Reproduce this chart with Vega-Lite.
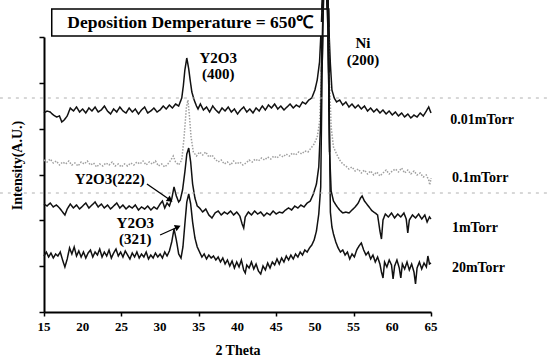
{
  "$schema": "https://vega.github.io/schema/vega-lite/v6.json",
  "width": 387,
  "height": 275,
  "autosize": {"type": "none"},
  "padding": {"left": 44, "top": 37, "right": 117, "bottom": 50},
  "background": "white",
  "config": {"view": {"stroke": null}, "font": "Liberation Serif"},
  "datasets": {
    "traces": [
      {"s":"0.01mTorr","x":15,"y":199},{"s":"0.01mTorr","x":15.4,"y":201},{"s":"0.01mTorr","x":15.8,"y":200},{"s":"0.01mTorr","x":16.2,"y":197},{"s":"0.01mTorr","x":16.6,"y":195},{"s":"0.01mTorr","x":17,"y":196},{"s":"0.01mTorr","x":17.3,"y":190},{"s":"0.01mTorr","x":17.6,"y":192},{"s":"0.01mTorr","x":18,"y":196},{"s":"0.01mTorr","x":18.4,"y":204},{"s":"0.01mTorr","x":18.8,"y":201},{"s":"0.01mTorr","x":19.2,"y":205},{"s":"0.01mTorr","x":19.6,"y":200},{"s":"0.01mTorr","x":20,"y":203},{"s":"0.01mTorr","x":20.4,"y":199},{"s":"0.01mTorr","x":20.8,"y":204},{"s":"0.01mTorr","x":21.2,"y":201},{"s":"0.01mTorr","x":21.6,"y":205},{"s":"0.01mTorr","x":22,"y":200},{"s":"0.01mTorr","x":22.4,"y":202},{"s":"0.01mTorr","x":22.8,"y":206},{"s":"0.01mTorr","x":23.2,"y":201},{"s":"0.01mTorr","x":23.6,"y":198},{"s":"0.01mTorr","x":24,"y":203},{"s":"0.01mTorr","x":24.4,"y":200},{"s":"0.01mTorr","x":24.8,"y":205},{"s":"0.01mTorr","x":25.2,"y":201},{"s":"0.01mTorr","x":25.6,"y":199},{"s":"0.01mTorr","x":26,"y":204},{"s":"0.01mTorr","x":26.4,"y":200},{"s":"0.01mTorr","x":26.8,"y":203},{"s":"0.01mTorr","x":27.2,"y":198},{"s":"0.01mTorr","x":27.6,"y":202},{"s":"0.01mTorr","x":28,"y":205},{"s":"0.01mTorr","x":28.4,"y":199},{"s":"0.01mTorr","x":28.8,"y":201},{"s":"0.01mTorr","x":29.2,"y":204},{"s":"0.01mTorr","x":29.6,"y":200},{"s":"0.01mTorr","x":30,"y":202},{"s":"0.01mTorr","x":30.4,"y":206},{"s":"0.01mTorr","x":30.8,"y":203},{"s":"0.01mTorr","x":31.2,"y":207},{"s":"0.01mTorr","x":31.6,"y":204},{"s":"0.01mTorr","x":32,"y":208},{"s":"0.01mTorr","x":32.4,"y":206},{"s":"0.01mTorr","x":32.8,"y":214},{"s":"0.01mTorr","x":33,"y":226},{"s":"0.01mTorr","x":33.2,"y":242},{"s":"0.01mTorr","x":33.45,"y":254},{"s":"0.01mTorr","x":33.7,"y":243},{"s":"0.01mTorr","x":33.9,"y":231},{"s":"0.01mTorr","x":34.1,"y":220},{"s":"0.01mTorr","x":34.4,"y":212},{"s":"0.01mTorr","x":34.7,"y":206},{"s":"0.01mTorr","x":34.9,"y":203},{"s":"0.01mTorr","x":35.2,"y":208},{"s":"0.01mTorr","x":35.6,"y":202},{"s":"0.01mTorr","x":36,"y":205},{"s":"0.01mTorr","x":36.4,"y":200},{"s":"0.01mTorr","x":36.8,"y":206},{"s":"0.01mTorr","x":37.2,"y":202},{"s":"0.01mTorr","x":37.6,"y":199},{"s":"0.01mTorr","x":38,"y":204},{"s":"0.01mTorr","x":38.4,"y":201},{"s":"0.01mTorr","x":38.8,"y":205},{"s":"0.01mTorr","x":39.2,"y":200},{"s":"0.01mTorr","x":39.6,"y":203},{"s":"0.01mTorr","x":40,"y":198},{"s":"0.01mTorr","x":40.4,"y":202},{"s":"0.01mTorr","x":40.8,"y":205},{"s":"0.01mTorr","x":41.2,"y":200},{"s":"0.01mTorr","x":41.6,"y":203},{"s":"0.01mTorr","x":42,"y":199},{"s":"0.01mTorr","x":42.4,"y":204},{"s":"0.01mTorr","x":42.8,"y":201},{"s":"0.01mTorr","x":43.2,"y":206},{"s":"0.01mTorr","x":43.6,"y":202},{"s":"0.01mTorr","x":44,"y":207},{"s":"0.01mTorr","x":44.4,"y":204},{"s":"0.01mTorr","x":44.8,"y":208},{"s":"0.01mTorr","x":45.2,"y":203},{"s":"0.01mTorr","x":45.6,"y":206},{"s":"0.01mTorr","x":46,"y":202},{"s":"0.01mTorr","x":46.4,"y":205},{"s":"0.01mTorr","x":46.8,"y":208},{"s":"0.01mTorr","x":47.2,"y":204},{"s":"0.01mTorr","x":47.6,"y":207},{"s":"0.01mTorr","x":48,"y":205},{"s":"0.01mTorr","x":48.4,"y":210},{"s":"0.01mTorr","x":48.8,"y":208},{"s":"0.01mTorr","x":49.2,"y":212},{"s":"0.01mTorr","x":49.6,"y":214},{"s":"0.01mTorr","x":50,"y":222},{"s":"0.01mTorr","x":50.3,"y":232},{"s":"0.01mTorr","x":50.6,"y":250},{"s":"0.01mTorr","x":50.85,"y":290},{"s":"0.01mTorr","x":51.05,"y":330},{"s":"0.01mTorr","x":51.3,"y":340},{"s":"0.01mTorr","x":51.6,"y":330},{"s":"0.01mTorr","x":51.8,"y":285},{"s":"0.01mTorr","x":52,"y":248},{"s":"0.01mTorr","x":52.2,"y":222},{"s":"0.01mTorr","x":52.5,"y":214},{"s":"0.01mTorr","x":52.8,"y":210},{"s":"0.01mTorr","x":53.2,"y":212},{"s":"0.01mTorr","x":53.6,"y":207},{"s":"0.01mTorr","x":54,"y":210},{"s":"0.01mTorr","x":54.4,"y":205},{"s":"0.01mTorr","x":54.8,"y":208},{"s":"0.01mTorr","x":55.2,"y":204},{"s":"0.01mTorr","x":55.6,"y":207},{"s":"0.01mTorr","x":56,"y":203},{"s":"0.01mTorr","x":56.4,"y":206},{"s":"0.01mTorr","x":56.8,"y":201},{"s":"0.01mTorr","x":57.2,"y":204},{"s":"0.01mTorr","x":57.6,"y":200},{"s":"0.01mTorr","x":58,"y":203},{"s":"0.01mTorr","x":58.4,"y":199},{"s":"0.01mTorr","x":58.8,"y":202},{"s":"0.01mTorr","x":59.2,"y":198},{"s":"0.01mTorr","x":59.6,"y":201},{"s":"0.01mTorr","x":60,"y":197},{"s":"0.01mTorr","x":60.4,"y":200},{"s":"0.01mTorr","x":60.8,"y":196},{"s":"0.01mTorr","x":61.2,"y":199},{"s":"0.01mTorr","x":61.6,"y":195},{"s":"0.01mTorr","x":62,"y":198},{"s":"0.01mTorr","x":62.4,"y":194},{"s":"0.01mTorr","x":62.8,"y":197},{"s":"0.01mTorr","x":63.2,"y":195},{"s":"0.01mTorr","x":63.6,"y":199},{"s":"0.01mTorr","x":64,"y":196},{"s":"0.01mTorr","x":64.4,"y":201},{"s":"0.01mTorr","x":64.7,"y":205},{"s":"0.01mTorr","x":65,"y":199},

      {"s":"0.1mTorr","x":15,"y":152},{"s":"0.1mTorr","x":15.4,"y":150},{"s":"0.1mTorr","x":15.8,"y":153},{"s":"0.1mTorr","x":16.2,"y":149},{"s":"0.1mTorr","x":16.6,"y":151},{"s":"0.1mTorr","x":17,"y":147},{"s":"0.1mTorr","x":17.4,"y":150},{"s":"0.1mTorr","x":17.8,"y":148},{"s":"0.1mTorr","x":18.2,"y":151},{"s":"0.1mTorr","x":18.6,"y":147},{"s":"0.1mTorr","x":19,"y":149},{"s":"0.1mTorr","x":19.4,"y":146},{"s":"0.1mTorr","x":19.8,"y":150},{"s":"0.1mTorr","x":20.2,"y":148},{"s":"0.1mTorr","x":20.6,"y":151},{"s":"0.1mTorr","x":21,"y":147},{"s":"0.1mTorr","x":21.4,"y":149},{"s":"0.1mTorr","x":21.8,"y":145},{"s":"0.1mTorr","x":22.2,"y":148},{"s":"0.1mTorr","x":22.6,"y":146},{"s":"0.1mTorr","x":23,"y":149},{"s":"0.1mTorr","x":23.4,"y":147},{"s":"0.1mTorr","x":23.8,"y":150},{"s":"0.1mTorr","x":24.2,"y":146},{"s":"0.1mTorr","x":24.6,"y":148},{"s":"0.1mTorr","x":25,"y":145},{"s":"0.1mTorr","x":25.4,"y":148},{"s":"0.1mTorr","x":25.8,"y":146},{"s":"0.1mTorr","x":26.2,"y":149},{"s":"0.1mTorr","x":26.6,"y":147},{"s":"0.1mTorr","x":27,"y":150},{"s":"0.1mTorr","x":27.4,"y":148},{"s":"0.1mTorr","x":27.8,"y":151},{"s":"0.1mTorr","x":28.2,"y":147},{"s":"0.1mTorr","x":28.6,"y":150},{"s":"0.1mTorr","x":29,"y":148},{"s":"0.1mTorr","x":29.4,"y":151},{"s":"0.1mTorr","x":29.8,"y":146},{"s":"0.1mTorr","x":30.2,"y":148},{"s":"0.1mTorr","x":30.6,"y":145},{"s":"0.1mTorr","x":31,"y":148},{"s":"0.1mTorr","x":31.4,"y":152},{"s":"0.1mTorr","x":31.7,"y":156},{"s":"0.1mTorr","x":32,"y":150},{"s":"0.1mTorr","x":32.4,"y":147},{"s":"0.1mTorr","x":32.8,"y":152},{"s":"0.1mTorr","x":33.1,"y":175},{"s":"0.1mTorr","x":33.4,"y":205},{"s":"0.1mTorr","x":33.6,"y":212},{"s":"0.1mTorr","x":33.8,"y":195},{"s":"0.1mTorr","x":34,"y":175},{"s":"0.1mTorr","x":34.3,"y":160},{"s":"0.1mTorr","x":34.7,"y":156},{"s":"0.1mTorr","x":35.1,"y":160},{"s":"0.1mTorr","x":35.5,"y":157},{"s":"0.1mTorr","x":35.9,"y":160},{"s":"0.1mTorr","x":36.3,"y":155},{"s":"0.1mTorr","x":36.7,"y":157},{"s":"0.1mTorr","x":37.1,"y":153},{"s":"0.1mTorr","x":37.5,"y":150},{"s":"0.1mTorr","x":37.9,"y":152},{"s":"0.1mTorr","x":38.3,"y":148},{"s":"0.1mTorr","x":38.7,"y":150},{"s":"0.1mTorr","x":39.1,"y":147},{"s":"0.1mTorr","x":39.5,"y":151},{"s":"0.1mTorr","x":39.9,"y":148},{"s":"0.1mTorr","x":40.3,"y":150},{"s":"0.1mTorr","x":40.7,"y":147},{"s":"0.1mTorr","x":41.1,"y":149},{"s":"0.1mTorr","x":41.5,"y":152},{"s":"0.1mTorr","x":41.9,"y":150},{"s":"0.1mTorr","x":42.3,"y":153},{"s":"0.1mTorr","x":42.7,"y":151},{"s":"0.1mTorr","x":43.1,"y":154},{"s":"0.1mTorr","x":43.5,"y":152},{"s":"0.1mTorr","x":43.9,"y":155},{"s":"0.1mTorr","x":44.3,"y":153},{"s":"0.1mTorr","x":44.7,"y":156},{"s":"0.1mTorr","x":45.1,"y":154},{"s":"0.1mTorr","x":45.5,"y":157},{"s":"0.1mTorr","x":45.9,"y":155},{"s":"0.1mTorr","x":46.3,"y":158},{"s":"0.1mTorr","x":46.7,"y":156},{"s":"0.1mTorr","x":47.1,"y":159},{"s":"0.1mTorr","x":47.5,"y":157},{"s":"0.1mTorr","x":47.9,"y":160},{"s":"0.1mTorr","x":48.3,"y":158},{"s":"0.1mTorr","x":48.7,"y":161},{"s":"0.1mTorr","x":49.1,"y":160},{"s":"0.1mTorr","x":49.5,"y":164},{"s":"0.1mTorr","x":49.9,"y":168},{"s":"0.1mTorr","x":50.3,"y":175},{"s":"0.1mTorr","x":50.6,"y":190},{"s":"0.1mTorr","x":50.85,"y":240},{"s":"0.1mTorr","x":51.1,"y":320},{"s":"0.1mTorr","x":51.35,"y":335},{"s":"0.1mTorr","x":51.6,"y":320},{"s":"0.1mTorr","x":51.85,"y":240},{"s":"0.1mTorr","x":52.1,"y":185},{"s":"0.1mTorr","x":52.4,"y":165},{"s":"0.1mTorr","x":52.8,"y":158},{"s":"0.1mTorr","x":53.2,"y":152},{"s":"0.1mTorr","x":53.6,"y":148},{"s":"0.1mTorr","x":54,"y":146},{"s":"0.1mTorr","x":54.4,"y":143},{"s":"0.1mTorr","x":54.8,"y":145},{"s":"0.1mTorr","x":55.2,"y":141},{"s":"0.1mTorr","x":55.6,"y":143},{"s":"0.1mTorr","x":56,"y":139},{"s":"0.1mTorr","x":56.4,"y":142},{"s":"0.1mTorr","x":56.8,"y":138},{"s":"0.1mTorr","x":57.2,"y":141},{"s":"0.1mTorr","x":57.6,"y":137},{"s":"0.1mTorr","x":58,"y":140},{"s":"0.1mTorr","x":58.4,"y":136},{"s":"0.1mTorr","x":58.8,"y":139},{"s":"0.1mTorr","x":59.2,"y":142},{"s":"0.1mTorr","x":59.6,"y":138},{"s":"0.1mTorr","x":60,"y":141},{"s":"0.1mTorr","x":60.4,"y":143},{"s":"0.1mTorr","x":60.8,"y":140},{"s":"0.1mTorr","x":61.2,"y":144},{"s":"0.1mTorr","x":61.6,"y":139},{"s":"0.1mTorr","x":62,"y":142},{"s":"0.1mTorr","x":62.4,"y":138},{"s":"0.1mTorr","x":62.8,"y":141},{"s":"0.1mTorr","x":63.2,"y":137},{"s":"0.1mTorr","x":63.6,"y":139},{"s":"0.1mTorr","x":64,"y":135},{"s":"0.1mTorr","x":64.4,"y":137},{"s":"0.1mTorr","x":64.7,"y":132},{"s":"0.1mTorr","x":64.85,"y":127},{"s":"0.1mTorr","x":65,"y":134},

      {"s":"1mTorr","x":15,"y":108},{"s":"1mTorr","x":15.4,"y":106},{"s":"1mTorr","x":15.8,"y":109},{"s":"1mTorr","x":16.2,"y":105},{"s":"1mTorr","x":16.6,"y":107},{"s":"1mTorr","x":17,"y":104},{"s":"1mTorr","x":17.4,"y":100},{"s":"1mTorr","x":17.7,"y":97},{"s":"1mTorr","x":18,"y":103},{"s":"1mTorr","x":18.4,"y":108},{"s":"1mTorr","x":18.8,"y":104},{"s":"1mTorr","x":19.2,"y":107},{"s":"1mTorr","x":19.6,"y":103},{"s":"1mTorr","x":20,"y":106},{"s":"1mTorr","x":20.4,"y":109},{"s":"1mTorr","x":20.8,"y":104},{"s":"1mTorr","x":21.2,"y":107},{"s":"1mTorr","x":21.6,"y":110},{"s":"1mTorr","x":22,"y":105},{"s":"1mTorr","x":22.4,"y":108},{"s":"1mTorr","x":22.8,"y":104},{"s":"1mTorr","x":23.2,"y":107},{"s":"1mTorr","x":23.6,"y":103},{"s":"1mTorr","x":24,"y":106},{"s":"1mTorr","x":24.4,"y":109},{"s":"1mTorr","x":24.8,"y":104},{"s":"1mTorr","x":25.2,"y":107},{"s":"1mTorr","x":25.6,"y":103},{"s":"1mTorr","x":26,"y":106},{"s":"1mTorr","x":26.4,"y":104},{"s":"1mTorr","x":26.8,"y":107},{"s":"1mTorr","x":27.2,"y":102},{"s":"1mTorr","x":27.6,"y":105},{"s":"1mTorr","x":28,"y":103},{"s":"1mTorr","x":28.4,"y":106},{"s":"1mTorr","x":28.8,"y":102},{"s":"1mTorr","x":29.2,"y":105},{"s":"1mTorr","x":29.6,"y":103},{"s":"1mTorr","x":30,"y":108},{"s":"1mTorr","x":30.3,"y":111},{"s":"1mTorr","x":30.6,"y":104},{"s":"1mTorr","x":30.9,"y":109},{"s":"1mTorr","x":31.2,"y":106},{"s":"1mTorr","x":31.5,"y":113},{"s":"1mTorr","x":31.8,"y":125},{"s":"1mTorr","x":32.1,"y":116},{"s":"1mTorr","x":32.4,"y":110},{"s":"1mTorr","x":32.6,"y":112},{"s":"1mTorr","x":32.9,"y":122},{"s":"1mTorr","x":33.2,"y":140},{"s":"1mTorr","x":33.45,"y":158},{"s":"1mTorr","x":33.7,"y":164},{"s":"1mTorr","x":33.95,"y":150},{"s":"1mTorr","x":34.2,"y":128},{"s":"1mTorr","x":34.5,"y":114},{"s":"1mTorr","x":34.8,"y":106},{"s":"1mTorr","x":35.1,"y":104},{"s":"1mTorr","x":35.5,"y":100},{"s":"1mTorr","x":35.9,"y":103},{"s":"1mTorr","x":36.3,"y":97},{"s":"1mTorr","x":36.7,"y":94},{"s":"1mTorr","x":37.1,"y":99},{"s":"1mTorr","x":37.5,"y":101},{"s":"1mTorr","x":37.9,"y":97},{"s":"1mTorr","x":38.3,"y":100},{"s":"1mTorr","x":38.7,"y":98},{"s":"1mTorr","x":39.1,"y":101},{"s":"1mTorr","x":39.5,"y":97},{"s":"1mTorr","x":39.9,"y":100},{"s":"1mTorr","x":40.3,"y":96},{"s":"1mTorr","x":40.6,"y":88},{"s":"1mTorr","x":40.8,"y":84},{"s":"1mTorr","x":41,"y":95},{"s":"1mTorr","x":41.4,"y":100},{"s":"1mTorr","x":41.8,"y":97},{"s":"1mTorr","x":42.2,"y":101},{"s":"1mTorr","x":42.6,"y":98},{"s":"1mTorr","x":43,"y":100},{"s":"1mTorr","x":43.4,"y":96},{"s":"1mTorr","x":43.8,"y":99},{"s":"1mTorr","x":44.2,"y":97},{"s":"1mTorr","x":44.6,"y":101},{"s":"1mTorr","x":45,"y":98},{"s":"1mTorr","x":45.4,"y":100},{"s":"1mTorr","x":45.8,"y":99},{"s":"1mTorr","x":46.2,"y":102},{"s":"1mTorr","x":46.6,"y":104},{"s":"1mTorr","x":47,"y":102},{"s":"1mTorr","x":47.4,"y":106},{"s":"1mTorr","x":47.8,"y":104},{"s":"1mTorr","x":48.2,"y":107},{"s":"1mTorr","x":48.6,"y":105},{"s":"1mTorr","x":49,"y":109},{"s":"1mTorr","x":49.4,"y":111},{"s":"1mTorr","x":49.8,"y":118},{"s":"1mTorr","x":50.2,"y":128},{"s":"1mTorr","x":50.5,"y":145},{"s":"1mTorr","x":50.75,"y":190},{"s":"1mTorr","x":50.95,"y":300},{"s":"1mTorr","x":51.2,"y":335},{"s":"1mTorr","x":51.45,"y":330},{"s":"1mTorr","x":51.7,"y":280},{"s":"1mTorr","x":51.9,"y":160},{"s":"1mTorr","x":52.1,"y":121},{"s":"1mTorr","x":52.4,"y":111},{"s":"1mTorr","x":52.8,"y":106},{"s":"1mTorr","x":53.2,"y":102},{"s":"1mTorr","x":53.6,"y":99},{"s":"1mTorr","x":54,"y":100},{"s":"1mTorr","x":54.4,"y":99},{"s":"1mTorr","x":54.8,"y":102},{"s":"1mTorr","x":55.2,"y":105},{"s":"1mTorr","x":55.6,"y":109},{"s":"1mTorr","x":55.9,"y":114},{"s":"1mTorr","x":56.1,"y":116},{"s":"1mTorr","x":56.4,"y":111},{"s":"1mTorr","x":56.7,"y":108},{"s":"1mTorr","x":57,"y":105},{"s":"1mTorr","x":57.4,"y":101},{"s":"1mTorr","x":57.8,"y":99},{"s":"1mTorr","x":58.1,"y":97},{"s":"1mTorr","x":58.4,"y":81},{"s":"1mTorr","x":58.6,"y":73},{"s":"1mTorr","x":58.8,"y":92},{"s":"1mTorr","x":59.1,"y":98},{"s":"1mTorr","x":59.5,"y":95},{"s":"1mTorr","x":59.9,"y":99},{"s":"1mTorr","x":60.3,"y":94},{"s":"1mTorr","x":60.7,"y":98},{"s":"1mTorr","x":61.1,"y":95},{"s":"1mTorr","x":61.5,"y":99},{"s":"1mTorr","x":61.8,"y":93},{"s":"1mTorr","x":62,"y":79},{"s":"1mTorr","x":62.2,"y":92},{"s":"1mTorr","x":62.6,"y":97},{"s":"1mTorr","x":63,"y":94},{"s":"1mTorr","x":63.4,"y":98},{"s":"1mTorr","x":63.8,"y":93},{"s":"1mTorr","x":64.2,"y":97},{"s":"1mTorr","x":64.5,"y":90},{"s":"1mTorr","x":64.8,"y":95},{"s":"1mTorr","x":65,"y":93},

      {"s":"20mTorr","x":15,"y":56},{"s":"20mTorr","x":15.3,"y":60},{"s":"20mTorr","x":15.6,"y":55},{"s":"20mTorr","x":15.9,"y":59},{"s":"20mTorr","x":16.2,"y":54},{"s":"20mTorr","x":16.5,"y":58},{"s":"20mTorr","x":16.8,"y":56},{"s":"20mTorr","x":17.1,"y":60},{"s":"20mTorr","x":17.4,"y":52},{"s":"20mTorr","x":17.7,"y":45},{"s":"20mTorr","x":18,"y":53},{"s":"20mTorr","x":18.3,"y":64},{"s":"20mTorr","x":18.6,"y":58},{"s":"20mTorr","x":18.9,"y":65},{"s":"20mTorr","x":19.2,"y":56},{"s":"20mTorr","x":19.5,"y":61},{"s":"20mTorr","x":19.8,"y":55},{"s":"20mTorr","x":20.1,"y":60},{"s":"20mTorr","x":20.4,"y":54},{"s":"20mTorr","x":20.7,"y":59},{"s":"20mTorr","x":21,"y":62},{"s":"20mTorr","x":21.3,"y":55},{"s":"20mTorr","x":21.6,"y":60},{"s":"20mTorr","x":21.9,"y":57},{"s":"20mTorr","x":22.2,"y":63},{"s":"20mTorr","x":22.5,"y":55},{"s":"20mTorr","x":22.8,"y":60},{"s":"20mTorr","x":23.1,"y":56},{"s":"20mTorr","x":23.4,"y":62},{"s":"20mTorr","x":23.7,"y":54},{"s":"20mTorr","x":24,"y":59},{"s":"20mTorr","x":24.3,"y":63},{"s":"20mTorr","x":24.6,"y":56},{"s":"20mTorr","x":24.9,"y":60},{"s":"20mTorr","x":25.2,"y":55},{"s":"20mTorr","x":25.5,"y":61},{"s":"20mTorr","x":25.8,"y":57},{"s":"20mTorr","x":26.1,"y":53},{"s":"20mTorr","x":26.4,"y":59},{"s":"20mTorr","x":26.7,"y":55},{"s":"20mTorr","x":27,"y":60},{"s":"20mTorr","x":27.3,"y":54},{"s":"20mTorr","x":27.6,"y":58},{"s":"20mTorr","x":27.9,"y":55},{"s":"20mTorr","x":28.2,"y":60},{"s":"20mTorr","x":28.5,"y":53},{"s":"20mTorr","x":28.8,"y":57},{"s":"20mTorr","x":29.1,"y":54},{"s":"20mTorr","x":29.4,"y":59},{"s":"20mTorr","x":29.7,"y":55},{"s":"20mTorr","x":30,"y":58},{"s":"20mTorr","x":30.3,"y":54},{"s":"20mTorr","x":30.6,"y":60},{"s":"20mTorr","x":30.9,"y":56},{"s":"20mTorr","x":31.2,"y":61},{"s":"20mTorr","x":31.5,"y":70},{"s":"20mTorr","x":31.8,"y":83},{"s":"20mTorr","x":32.1,"y":72},{"s":"20mTorr","x":32.4,"y":58},{"s":"20mTorr","x":32.7,"y":54},{"s":"20mTorr","x":32.95,"y":65},{"s":"20mTorr","x":33.2,"y":88},{"s":"20mTorr","x":33.45,"y":110},{"s":"20mTorr","x":33.7,"y":118},{"s":"20mTorr","x":33.95,"y":108},{"s":"20mTorr","x":34.2,"y":90},{"s":"20mTorr","x":34.5,"y":74},{"s":"20mTorr","x":34.8,"y":65},{"s":"20mTorr","x":35.1,"y":60},{"s":"20mTorr","x":35.4,"y":55},{"s":"20mTorr","x":35.7,"y":58},{"s":"20mTorr","x":36,"y":53},{"s":"20mTorr","x":36.3,"y":57},{"s":"20mTorr","x":36.6,"y":54},{"s":"20mTorr","x":36.9,"y":56},{"s":"20mTorr","x":37.2,"y":52},{"s":"20mTorr","x":37.5,"y":55},{"s":"20mTorr","x":37.8,"y":50},{"s":"20mTorr","x":38.1,"y":54},{"s":"20mTorr","x":38.4,"y":48},{"s":"20mTorr","x":38.7,"y":52},{"s":"20mTorr","x":39,"y":46},{"s":"20mTorr","x":39.3,"y":51},{"s":"20mTorr","x":39.6,"y":44},{"s":"20mTorr","x":39.9,"y":50},{"s":"20mTorr","x":40.2,"y":45},{"s":"20mTorr","x":40.5,"y":52},{"s":"20mTorr","x":40.8,"y":42},{"s":"20mTorr","x":41,"y":39},{"s":"20mTorr","x":41.2,"y":47},{"s":"20mTorr","x":41.5,"y":44},{"s":"20mTorr","x":41.8,"y":50},{"s":"20mTorr","x":42.1,"y":43},{"s":"20mTorr","x":42.4,"y":48},{"s":"20mTorr","x":42.7,"y":41},{"s":"20mTorr","x":43,"y":38},{"s":"20mTorr","x":43.3,"y":46},{"s":"20mTorr","x":43.6,"y":42},{"s":"20mTorr","x":43.9,"y":49},{"s":"20mTorr","x":44.2,"y":44},{"s":"20mTorr","x":44.5,"y":50},{"s":"20mTorr","x":44.8,"y":47},{"s":"20mTorr","x":45.1,"y":53},{"s":"20mTorr","x":45.4,"y":48},{"s":"20mTorr","x":45.7,"y":54},{"s":"20mTorr","x":46,"y":50},{"s":"20mTorr","x":46.3,"y":56},{"s":"20mTorr","x":46.6,"y":52},{"s":"20mTorr","x":46.9,"y":57},{"s":"20mTorr","x":47.2,"y":53},{"s":"20mTorr","x":47.5,"y":58},{"s":"20mTorr","x":47.8,"y":55},{"s":"20mTorr","x":48.1,"y":60},{"s":"20mTorr","x":48.4,"y":57},{"s":"20mTorr","x":48.7,"y":62},{"s":"20mTorr","x":49,"y":60},{"s":"20mTorr","x":49.3,"y":64},{"s":"20mTorr","x":49.6,"y":67},{"s":"20mTorr","x":49.9,"y":72},{"s":"20mTorr","x":50.2,"y":81},{"s":"20mTorr","x":50.5,"y":98},{"s":"20mTorr","x":50.75,"y":125},{"s":"20mTorr","x":50.95,"y":250},{"s":"20mTorr","x":51.15,"y":330},{"s":"20mTorr","x":51.4,"y":335},{"s":"20mTorr","x":51.65,"y":320},{"s":"20mTorr","x":51.85,"y":200},{"s":"20mTorr","x":52,"y":100},{"s":"20mTorr","x":52.2,"y":85},{"s":"20mTorr","x":52.4,"y":78},{"s":"20mTorr","x":52.7,"y":70},{"s":"20mTorr","x":53,"y":64},{"s":"20mTorr","x":53.3,"y":60},{"s":"20mTorr","x":53.6,"y":62},{"s":"20mTorr","x":53.9,"y":57},{"s":"20mTorr","x":54.2,"y":60},{"s":"20mTorr","x":54.5,"y":53},{"s":"20mTorr","x":54.8,"y":58},{"s":"20mTorr","x":55.1,"y":55},{"s":"20mTorr","x":55.4,"y":62},{"s":"20mTorr","x":55.7,"y":66},{"s":"20mTorr","x":56,"y":69},{"s":"20mTorr","x":56.3,"y":62},{"s":"20mTorr","x":56.6,"y":57},{"s":"20mTorr","x":56.9,"y":60},{"s":"20mTorr","x":57.2,"y":53},{"s":"20mTorr","x":57.5,"y":57},{"s":"20mTorr","x":57.8,"y":50},{"s":"20mTorr","x":58.1,"y":55},{"s":"20mTorr","x":58.4,"y":48},{"s":"20mTorr","x":58.6,"y":40},{"s":"20mTorr","x":58.8,"y":34},{"s":"20mTorr","x":59,"y":50},{"s":"20mTorr","x":59.3,"y":45},{"s":"20mTorr","x":59.6,"y":52},{"s":"20mTorr","x":59.9,"y":47},{"s":"20mTorr","x":60.1,"y":33},{"s":"20mTorr","x":60.3,"y":46},{"s":"20mTorr","x":60.6,"y":52},{"s":"20mTorr","x":60.9,"y":44},{"s":"20mTorr","x":61.1,"y":34},{"s":"20mTorr","x":61.3,"y":48},{"s":"20mTorr","x":61.6,"y":43},{"s":"20mTorr","x":61.9,"y":50},{"s":"20mTorr","x":62.2,"y":42},{"s":"20mTorr","x":62.5,"y":48},{"s":"20mTorr","x":62.8,"y":40},{"s":"20mTorr","x":63,"y":28},{"s":"20mTorr","x":63.2,"y":44},{"s":"20mTorr","x":63.5,"y":50},{"s":"20mTorr","x":63.8,"y":43},{"s":"20mTorr","x":64.1,"y":49},{"s":"20mTorr","x":64.4,"y":45},{"s":"20mTorr","x":64.6,"y":56},{"s":"20mTorr","x":64.8,"y":48},{"s":"20mTorr","x":65,"y":49}
    ],
    "scanlines": [
      {"x":9.3,"x2":80.1,"y":214},
      {"x":9.3,"x2":80.1,"y":119}
    ],
    "box": [
      {"x":16.0,"x2":51.8,"y":303,"y2":276,"label":"Deposition Demperature = 650℃","tx":33.9,"ty":289.5}
    ],
    "serieslabels": [
      {"x":67.5,"y":192,"label":"0.01mTorr"},
      {"x":67.7,"y":134,"label":"0.1mTorr"},
      {"x":67.7,"y":84,"label":"1mTorr"},
      {"x":67.7,"y":44,"label":"20mTorr"}
    ],
    "peaklabels": [
      {"x":37.5,"y":254,"label":"Y2O3"},
      {"x":37.5,"y":238,"label":"(400)"},
      {"x":56.2,"y":269,"label":"Ni"},
      {"x":56.2,"y":252,"label":"(200)"},
      {"x":23.5,"y":133,"label":"Y2O3(222)"},
      {"x":26.8,"y":89,"label":"Y2O3"},
      {"x":26.8,"y":73,"label":"(321)"}
    ],
    "arrows": [
      {"x":28.3,"y":128,"x2":31.3,"y2":112,"angle":35},
      {"x":30.0,"y":77,"x2":32.3,"y2":85,"angle":337}
    ],
    "xticks": [
      {"x":15,"y":-15,"label":"15"},{"x":20,"y":-15,"label":"20"},{"x":25,"y":-15,"label":"25"},{"x":30,"y":-15,"label":"30"},
      {"x":35,"y":-15,"label":"35"},{"x":40,"y":-15,"label":"40"},{"x":45,"y":-15,"label":"45"},{"x":50,"y":-15,"label":"50"},
      {"x":55,"y":-15,"label":"55"},{"x":60,"y":-15,"label":"60"},{"x":65,"y":-15,"label":"65"}
    ]
  },
  "layer": [
    {
      "data": {"name": "traces"},
      "mark": {"type": "line", "clip": false, "strokeWidth": 1.5, "interpolate": "linear"},
      "encoding": {
        "x": {"field": "x", "type": "quantitative", "scale": {"domain": [15, 65], "nice": false, "zero": false},
          "axis": {"values": [15,20,25,30,35,40,45,50,55,60,65], "title": "2 Theta", "grid": false, "labels": false,
            "domainColor": "black", "domainWidth": 2, "tickColor": "black", "tickWidth": 1.5, "tickSize": 4,
            "titleFont": "Liberation Serif", "titleFontWeight": "bold", "titleFontSize": 14, "titleColor": "black", "titleY": 38, "titleBaseline": "middle"}},
        "y": {"field": "y", "type": "quantitative", "scale": {"domain": [0, 275], "nice": false, "zero": false},
          "axis": {"values": [0, 45.83, 91.67, 137.5, 183.33, 229.17, 275], "labels": false, "grid": false, "title": "Intensity(A.U.)",
            "domainColor": "black", "domainWidth": 2, "tickColor": "black", "tickWidth": 1.5, "tickSize": 5,
            "titleFont": "Liberation Serif", "titleFontWeight": "bold", "titleFontSize": 14, "titleColor": "black",
            "titleX": -27, "titleY": 128, "titleBaseline": "middle", "titleAlign": "center"}},
        "detail": {"field": "s"},
        "color": {"field": "s", "type": "nominal", "legend": null,
          "scale": {"domain": ["0.01mTorr", "0.1mTorr", "1mTorr", "20mTorr"], "range": ["#111111", "#a0a0a0", "#111111", "#111111"]}},
        "strokeDash": {"field": "s", "type": "nominal", "legend": null,
          "scale": {"domain": ["0.01mTorr", "0.1mTorr", "1mTorr", "20mTorr"], "range": [[1, 0], [1.5, 1.5], [1, 0], [1, 0]]}},
        "order": {"field": "x", "type": "quantitative"}
      }
    },
    {
      "data": {"name": "xticks"},
      "mark": {"type": "text", "clip": false, "font": "Liberation Serif", "fontWeight": "bold", "fontSize": 13, "color": "black", "align": "center", "baseline": "middle"},
      "encoding": {
        "x": {"field": "x", "type": "quantitative"},
        "y": {"field": "y", "type": "quantitative"},
        "text": {"field": "label"}
      }
    },
    {
      "data": {"name": "scanlines"},
      "mark": {"type": "rule", "clip": false, "color": "#b0b0b0", "strokeWidth": 1, "strokeDash": [3, 5]},
      "encoding": {
        "x": {"field": "x", "type": "quantitative"},
        "x2": {"field": "x2"},
        "y": {"field": "y", "type": "quantitative"}
      }
    },
    {
      "data": {"name": "box"},
      "mark": {"type": "rect", "clip": false, "fill": "white", "stroke": "black", "strokeWidth": 1.5},
      "encoding": {
        "x": {"field": "x", "type": "quantitative"},
        "x2": {"field": "x2"},
        "y": {"field": "y", "type": "quantitative"},
        "y2": {"field": "y2"}
      }
    },
    {
      "data": {"name": "box"},
      "mark": {"type": "text", "clip": false, "font": "Liberation Serif", "fontWeight": "bold", "fontSize": 17.5, "color": "black", "align": "center", "baseline": "middle"},
      "encoding": {
        "x": {"field": "tx", "type": "quantitative"},
        "y": {"field": "ty", "type": "quantitative"},
        "text": {"field": "label"}
      }
    },
    {
      "data": {"name": "traces"},
      "transform": [{"filter": "datum.x > 50.8 && datum.x < 52"}],
      "mark": {"type": "line", "clip": false, "strokeWidth": 1.5, "color": "#111111"},
      "encoding": {
        "x": {"field": "x", "type": "quantitative"},
        "y": {"field": "y", "type": "quantitative"},
        "detail": {"field": "s"},
        "order": {"field": "x", "type": "quantitative"}
      }
    },
    {
      "data": {"name": "serieslabels"},
      "mark": {"type": "text", "clip": false, "font": "Liberation Serif", "fontWeight": "bold", "fontSize": 14, "color": "black", "align": "left", "baseline": "middle"},
      "encoding": {
        "x": {"field": "x", "type": "quantitative"},
        "y": {"field": "y", "type": "quantitative"},
        "text": {"field": "label"}
      }
    },
    {
      "data": {"name": "peaklabels"},
      "mark": {"type": "text", "clip": false, "font": "Liberation Serif", "fontWeight": "bold", "fontSize": 15, "color": "black", "align": "center", "baseline": "middle"},
      "encoding": {
        "x": {"field": "x", "type": "quantitative"},
        "y": {"field": "y", "type": "quantitative"},
        "text": {"field": "label"}
      }
    },
    {
      "data": {"name": "arrows"},
      "mark": {"type": "rule", "clip": false, "color": "black", "strokeWidth": 1.3},
      "encoding": {
        "x": {"field": "x", "type": "quantitative"},
        "y": {"field": "y", "type": "quantitative"},
        "x2": {"field": "x2"},
        "y2": {"field": "y2"}
      }
    },
    {
      "data": {"name": "arrows"},
      "mark": {"type": "point", "clip": false, "shape": "triangle-right", "filled": true, "color": "black", "size": 45, "opacity": 1},
      "encoding": {
        "x": {"field": "x2", "type": "quantitative"},
        "y": {"field": "y2", "type": "quantitative"},
        "angle": {"field": "angle", "type": "quantitative", "scale": null}
      }
    }
  ]
}
